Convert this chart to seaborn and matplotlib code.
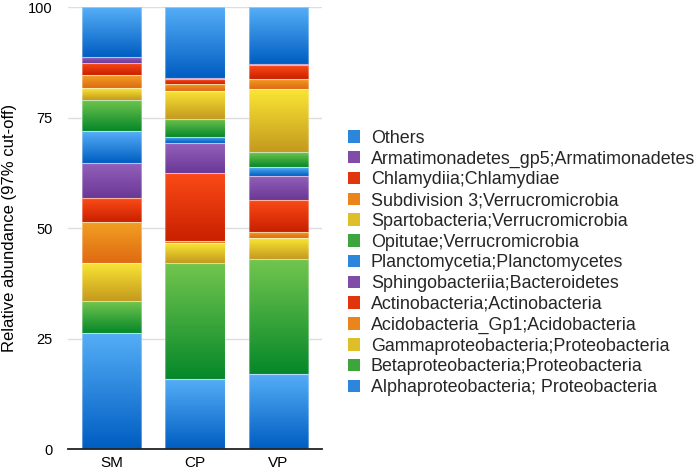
import numpy as np
import matplotlib
matplotlib.use("Agg")
import matplotlib.pyplot as plt
import seaborn as sns
from matplotlib.colors import LinearSegmentedColormap
from matplotlib.patches import Patch

# samples
samples = ["SM", "CP", "VP"]

# taxa, bottom of the stack first
taxa = [
    "Alphaproteobacteria; Proteobacteria",
    "Betaproteobacteria;Proteobacteria",
    "Gammaproteobacteria;Proteobacteria",
    "Acidobacteria_Gp1;Acidobacteria",
    "Actinobacteria;Actinobacteria",
    "Sphingobacteriia;Bacteroidetes",
    "Planctomycetia;Planctomycetes",
    "Opitutae;Verrucromicrobia",
    "Spartobacteria;Verrucromicrobia",
    "Subdivision 3;Verrucromicrobia",
    "Chlamydiia;Chlamydiae",
    "Armatimonadetes_gp5;Armatimonadetes",
    "Others",
]

# relative abundance (%), one list per sample
sm_values = [26.4, 7.1, 8.7, 9.3, 5.3, 8.0, 7.1, 7.1, 2.7, 2.9, 2.8, 1.3, 11.3]
cp_values = [16.0, 26.2, 4.4, 0.4, 15.5, 6.7, 1.4, 4.1, 6.4, 1.6, 1.0, 0.2, 16.1]
vp_values = [17.0, 26.0, 4.7, 1.4, 7.3, 5.5, 2.0, 3.3, 14.2, 2.4, 3.0, 0.4, 12.8]

# gradient colours (top, bottom) per colour family
families = {
    "blue": ("#56aef7", "#005ec2"),
    "green": ("#72c54e", "#06882a"),
    "yellow": ("#fae535", "#c49a1e"),
    "orange": ("#f2a024", "#e06a12"),
    "red": ("#fc4b18", "#c92000"),
    "purple": ("#9461bb", "#6a3896"),
}
cycle = ["blue", "green", "yellow", "orange", "red", "purple"]
taxon_family = [cycle[i % len(cycle)] for i in range(len(taxa))]

sns.set_theme(style="white")
plt.rcParams["font.family"] = ["Liberation Sans", "DejaVu Sans"]

fig = plt.figure(figsize=(6.97, 4.72), dpi=100)
ax = fig.add_axes([0.0976, 0.048, 0.364, 0.937])

data = np.array([sm_values, cp_values, vp_values])
bottoms = np.zeros(len(samples))
for j, taxon in enumerate(taxa):
    top, bot = families[taxon_family[j]]
    sns.barplot(x=samples, y=data[:, j], bottom=bottoms, color=top,
                width=0.71, ax=ax, errorbar=None, saturation=1,
                edgecolor="none", linewidth=0)
    bottoms = bottoms + data[:, j]

# vertical gradient on each bar segment (light at top, dark at bottom)
grad = np.linspace(0, 1, 64).reshape(-1, 1)
n = len(samples)
for k, patch in enumerate(list(ax.patches)):
    j = k // n
    top, bot = families[taxon_family[j]]
    cmap = LinearSegmentedColormap.from_list("g", [top, bot])
    x0, y0 = patch.get_x(), patch.get_y()
    w, h = patch.get_width(), patch.get_height()
    if h <= 0:
        continue
    ax.imshow(grad, cmap=cmap, extent=(x0, x0 + w, y0, y0 + h), origin="upper",
              aspect="auto", zorder=2, interpolation="bilinear")
    ax.add_patch(plt.Rectangle((x0, y0), w, h, fill=False,
                               edgecolor=(1, 1, 1, 0.35), linewidth=0.8, zorder=3))
ax.set_xlim(-0.52, 2.52)
ax.set_ylim(0, 100)

ax.set_yticks([0, 25, 50, 75, 100])
ax.yaxis.grid(True, color="#dddddd", linewidth=1)
ax.set_axisbelow(True)
for s in ["left", "right", "top"]:
    ax.spines[s].set_visible(False)
ax.spines["bottom"].set_color("#222222")
ax.spines["bottom"].set_linewidth(1.3)
ax.spines["bottom"].set_zorder(5)
ax.tick_params(axis="y", length=0, pad=11, labelsize=10.5, colors="black")
ax.tick_params(axis="x", length=0, pad=5, labelsize=11, colors="black")
ax.set_ylabel("Relative abundance (97% cut-off)", fontsize=12, color="black", labelpad=8)
ax.set_xlabel("")

# legend squares use the middle tone of each gradient
def mid_tone(fam):
    c = LinearSegmentedColormap.from_list("m", list(families[fam]))
    return c(0.5)

handles = [Patch(facecolor=mid_tone(taxon_family[j]), edgecolor="none")
           for j in range(len(taxa))][::-1]
fig.legend(handles, taxa[::-1], loc="center left", bbox_to_anchor=(0.4757, 0.443),
           frameon=False, fontsize=12.9, handlelength=0.7, handleheight=0.7,
           handletextpad=0.6, labelspacing=0.21)

fig.savefig("out.png", dpi=100)
